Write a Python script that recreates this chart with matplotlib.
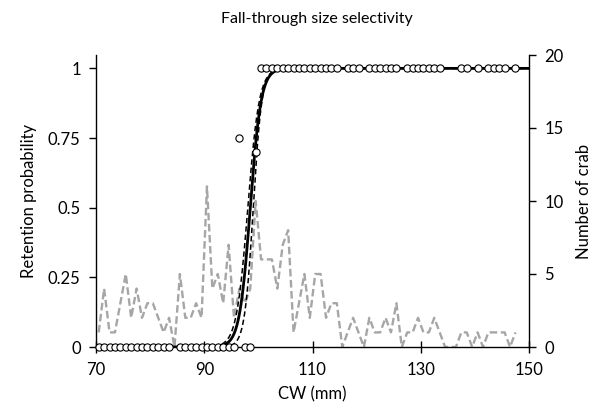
"""Fall-through size selectivity: retention probability vs carapace width."""

import matplotlib
matplotlib.use("Agg")
import matplotlib.pyplot as plt
import numpy as np

plt.rcParams["font.family"] = ["Lato", "DejaVu Sans"]

# 1-mm CW bins (mid-points)
cw = np.arange(70.5, 148.0, 1.0)

# number of crab per bin (right axis)
n_crab = [1, 4, 1, 1, 3, 5, 2, 4, 2, 3,
          3, 2, 1, 2, 0, 5, 2, 2, 3, 2,
          11, 4, 5, 3, 7, 2, 4, 3, 4, 10,
          6, 6, 6, 4, 7, 8, 1, 3, 5, 2,
          5, 5, 2, 3, 3, 0, 1, 2, 1, 0,
          2, 1, 1, 2, 1, 3, 0, 1, 1, 2,
          1, 1, 2, 1, 0, 0, 0, 1, 1, 0,
          1, 0, 1, 1, 1, 1, 0, 1]

# observed retention proportion per bin (None = no crab in bin)
retained = [0, 0, 0, 0, 0, 0, 0, 0, 0, 0,
            0, 0, 0, 0, None, 0, 0, 0, 0, 0,
            0, 0, 0, 0, 0, 0, 0.75, 0, 0, 0.7,
            1, 1, 1, 1, 1, 1, 1, 1, 1, 1,
            1, 1, 1, 1, 1, None, 1, 1, 1, None,
            1, 1, 1, 1, 1, 1, None, 1, 1, 1,
            1, 1, 1, 1, None, None, None, 1, 1, None,
            1, None, 1, 1, 1, 1, None, 1]

# logistic fit (L50, slope) and its bounds
fit = (98.5, 1.0)
fit_upper = (98.05, 0.95)
fit_lower = (99.05, 1.25)


def logistic(x, l50, k):
    return 1.0 / (1.0 + np.exp(-k * (x - l50)))


prop = np.array([np.nan if v is None else v for v in retained], dtype=float)
xs = np.linspace(70, 150, 801)

fig = plt.figure(figsize=(6.03, 4.13), dpi=100)
ax = fig.add_axes([96 / 603, 1 - 347 / 413, 433 / 603, 292 / 413])
ax2 = ax.twinx()

ax2.plot(cw, n_crab, color="#a6a6a6", lw=1.7, ls=(0, (3.2, 1.5)))
ax2.set_ylim(0, 20)
ax2.set_yticks([0, 5, 10, 15, 20])

ax.plot(xs, logistic(xs, *fit_upper), color="black", lw=1.1, ls=(0, (3.5, 2)))
ax.plot(xs, logistic(xs, *fit_lower), color="black", lw=1.1, ls=(0, (3.5, 2)))
ax.plot(xs, logistic(xs, *fit), color="black", lw=2.0)
ax.plot(cw, prop, ls="none", marker="o", ms=5.2, mfc="white", mec="black",
        mew=0.8, clip_on=False, zorder=5)

ax.set_zorder(ax2.get_zorder() + 1)
ax.patch.set_visible(False)

ax.set_xlim(70, 150)
ax.set_ylim(0, 1.048)
ax.set_xticks([70, 90, 110, 130, 150])
ax.set_yticks([0, 0.25, 0.5, 0.75, 1])
ax.set_yticklabels(["0", "0.25", "0.5", "0.75", "1"])

for a in (ax, ax2):
    a.spines["top"].set_visible(False)
    for s in a.spines.values():
        s.set_linewidth(1.0)
ax.spines["right"].set_visible(False)
ax2.spines["left"].set_visible(False)
ax2.spines["bottom"].set_visible(False)

ax.tick_params(axis="x", direction="inout", length=8, width=1.0, labelsize=12, pad=7)
ax.tick_params(axis="y", direction="out", length=5, width=1.0, labelsize=12, pad=6)
ax2.tick_params(axis="y", direction="out", length=5, width=1.0, labelsize=12, pad=6)

ax.set_xlabel("CW (mm)", fontsize=12, labelpad=6)
ax.set_ylabel("Retention probability", fontsize=12, labelpad=8)
ax2.set_ylabel("Number of crab", fontsize=12, labelpad=9)
ax.set_title("Fall-through size selectivity", fontsize=11.5, pad=23, x=0.51)

fig.savefig("out.png", dpi=100)
